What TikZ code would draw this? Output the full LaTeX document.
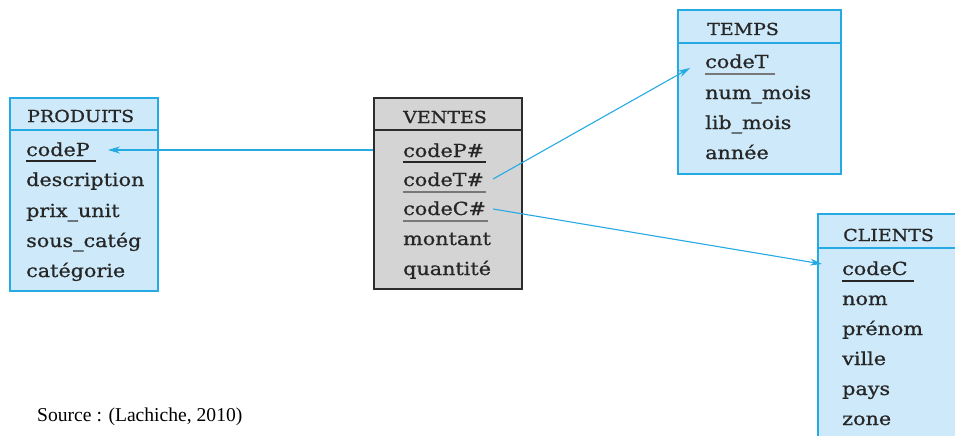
\documentclass[tikz,border=0pt]{standalone}
\usepackage{fontspec}
\setmainfont{Liberation Serif}
\newfontfamily\slab[FakeStretch=1.15,FakeBold=0.9]{DejaVu Serif}
\usetikzlibrary{arrows.meta}

\definecolor{tblue}{RGB}{38,170,228}
\definecolor{tfill}{RGB}{206,234,250}
\definecolor{gfill}{RGB}{212,212,212}
\definecolor{gline}{RGB}{45,45,45}
\definecolor{ulgray}{RGB}{120,120,120}

\tikzset{
  dimtable/.style={draw=tblue, fill=tfill, line width=2pt, anchor=north west, inner sep=0pt},
  facttable/.style={draw=gline, fill=gfill, line width=2pt, anchor=north west, inner sep=0pt},
  attr/.style={anchor=base west, inner sep=0pt, text height=12pt, text depth=0pt,
    font=\slab\fontsize{18}{20}\selectfont, text=black!85},
  title/.style={attr, font=\slab\fontsize{16.5}{20}\selectfont},
  keyline/.style={line width=1.6pt, draw=black!85},
  keylinegray/.style={line width=1.6pt, draw=ulgray},
  link/.style={draw=tblue, line width=1.1pt, -{Stealth[length=12pt,width=7pt]}},
}

\begin{document}
\begin{tikzpicture}[x=1pt,y=-1pt]
\clip (0,0) rectangle (955,436);
\fill[white] (0,0) rectangle (955,436);

% ---------- PRODUITS ----------
\node[dimtable, minimum width=148pt, minimum height=193pt] (produits) at (9,97) {};
\draw[tblue, line width=1.6pt] (9,130) -- (157,130);
\node[title] (ph) at (27,122) {PRODUITS};
\node[attr] (p1) at (26,156) {codeP};
\node[attr] (p2) at (26,186) {description};
\node[attr] (p3) at (26,217) {prix\_unit};
\node[attr] (p4) at (26,247) {sous\_catég};
\node[attr] (p5) at (26,277) {catégorie};
\draw[keyline] ([yshift=-5pt]p1.base west) -- ([xshift=6pt,yshift=-5pt]p1.base east);

% ---------- VENTES ----------
\node[facttable, minimum width=148pt, minimum height=191pt] (ventes) at (373,97) {};
\draw[gline, line width=1.6pt] (373,130) -- (521,130);
\node[title] (vh) at (403,123) {VENTES};
\node[attr] (v1) at (403,157) {codeP\#};
\node[attr] (v2) at (403,186) {codeT\#};
\node[attr] (v3) at (403,215) {codeC\#};
\node[attr] (v4) at (403,245) {montant};
\node[attr] (v5) at (403,275) {quantité};
\draw[keyline] ([yshift=-5pt]v1.base west) -- ([xshift=2pt,yshift=-5pt]v1.base east);
\draw[keylinegray] ([yshift=-6pt]v2.base west) -- ([xshift=2pt,yshift=-6pt]v2.base east);
\draw[keylinegray] ([yshift=-6pt]v3.base west) -- ([xshift=2pt,yshift=-6pt]v3.base east);

% ---------- TEMPS ----------
\node[dimtable, minimum width=163pt, minimum height=164pt] (temps) at (677,9) {};
\draw[tblue, line width=1.6pt] (677,43) -- (840,43);
\node[title] (th) at (707,35) {TEMPS};
\node[attr] (t1) at (705,68) {codeT};
\node[attr] (t2) at (705,99) {num\_mois};
\node[attr] (t3) at (705,129) {lib\_mois};
\node[attr] (t4) at (705,159) {année};
\draw[keylinegray] ([yshift=-6pt]t1.base west) -- ([xshift=6pt,yshift=-6pt]t1.base east);

% ---------- CLIENTS ----------
\node[dimtable, minimum width=160pt, minimum height=240pt] (clients) at (817,213) {};
\draw[tblue, line width=1.6pt] (817,248) -- (977,248);
\node[title] (ch) at (843,241) {CLIENTS};
\node[attr] (c1) at (842,275) {codeC};
\node[attr] (c2) at (842,305) {nom};
\node[attr] (c3) at (842,335) {prénom};
\node[attr] (c4) at (842,365) {ville};
\node[attr] (c5) at (842,395) {pays};
\node[attr] (c6) at (842,425) {zone};
\draw[keyline] ([yshift=-6pt]c1.base west) -- ([xshift=6pt,yshift=-6pt]c1.base east);

% ---------- foreign keys ----------
\coordinate (pk1) at (108,150);
\coordinate (pk2) at (690,68);
\coordinate (pk3) at (822,264);
\draw[link] (ventes.west |- pk1) -- (pk1);
\draw[link] ([xshift=9pt,yshift=1pt]v2.east) -- (pk2);
\draw[link] ([xshift=7pt]v3.east) -- (pk3);

% ---------- source ----------
\node[anchor=base west, inner sep=0pt, font=\fontsize{19.6}{24}\selectfont] (src) at (37,421) {Source : (Lachiche, 2010)};
\end{tikzpicture}
\end{document}
